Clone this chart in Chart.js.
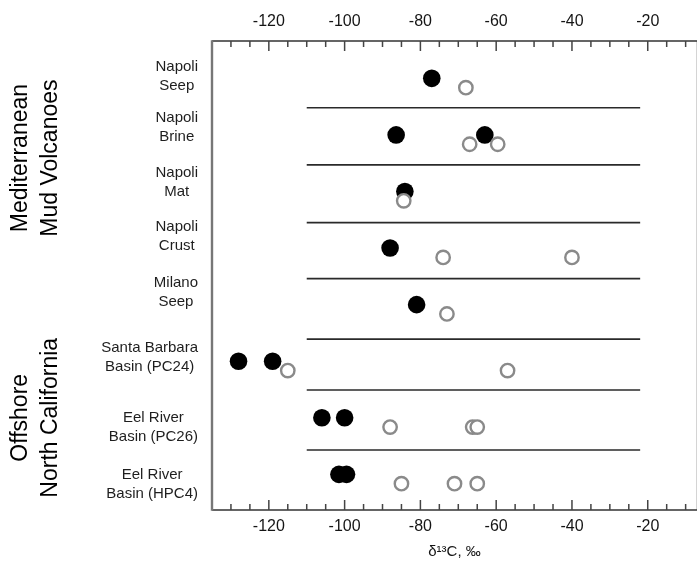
<!DOCTYPE html>
<html>
<head>
<meta charset="utf-8">
<script src="https://cdn.jsdelivr.net/npm/chart.js@4.4.1/dist/chart.umd.min.js"></script>
<style>
  html, body { margin: 0; padding: 0; background: #fff; }
  canvas { display: block; }
</style>
</head>
<body>
<canvas id="isoChart" width="700" height="564"></canvas>
<script>
// sample sites, top to bottom
const sites = [
  ['Napoli', 'Seep'],
  ['Napoli', 'Brine'],
  ['Napoli', 'Mat'],
  ['Napoli', 'Crust'],
  ['Milano', 'Seep'],
  ['Santa Barbara', 'Basin (PC24)'],
  ['Eel River', 'Basin (PC26)'],
  ['Eel River', 'Basin (HPC4)']
];
const regions = [
  ['Mediterranean', 'Mud Volcanoes'],
  ['Offshore', 'North California']
];

// δ13C values (‰) per site: filled = black dots, open = grey rings
const filledValues = [
  [-77],
  [-86.4, -63],
  [-84.1],
  [-88],
  [-81],
  [-128, -119],
  [-106, -100],
  [-101.5, -99.5]
];
const openValues = [
  [-68],
  [-67, -59.6],
  [-84.4],
  [-74, -40],
  [-73],
  [-115, -57],
  [-88, -66.2, -65],
  [-85, -71, -65]
];

const xTicks = [-120, -100, -80, -60, -40, -20];
const xMin = -135, xMax = -7;

// layout in row units (row i sits at y = i)
const openShift = 0.165;
const separatorRows = [0.52, 1.53, 2.55, 3.54, 4.61, 5.51, 6.57];
const separatorSpan = [-110, -22];
const siteLabelRows = [-0.035, 0.875, 1.83, 2.8, 3.79, 4.93, 6.17, 7.18];
const regionLabelRows = [1.41, 6.0];

const FONT = '"Liberation Sans", Arial, sans-serif';

const filledData = [];
filledValues.forEach((vals, i) => vals.forEach(v => filledData.push({ x: v, y: i })));
const openData = [];
openValues.forEach((vals, i) => vals.forEach(v => openData.push({ x: v, y: i + openShift })));

const datasets = [
  {
    label: 'open',
    data: openData,
    pointRadius: 6.7,
    pointBorderWidth: 2.4,
    pointBorderColor: '#8a8a8a',
    pointBackgroundColor: '#fff',
    showLine: false,
    order: 0
  },
  {
    label: 'filled',
    data: filledData,
    pointRadius: 8.8,
    pointBorderWidth: 0,
    pointBackgroundColor: '#000',
    showLine: false,
    order: 1
  }
];
separatorRows.forEach(r => {
  datasets.push({
    type: 'line',
    data: [{ x: separatorSpan[0], y: r }, { x: separatorSpan[1], y: r }],
    borderColor: '#2a2a2a',
    borderWidth: 1.6,
    pointRadius: 0,
    order: 2
  });
});

// labels are pushed off the axis with a tall line height
const axisCommon = {
  type: 'linear',
  min: xMin,
  max: xMax,
  afterBuildTicks: s => { s.ticks = xTicks.map(v => ({ value: v })); },
  grid: { display: false, drawTicks: false },
  border: { display: false },
  ticks: { padding: 0, color: '#151515' }
};

// inward ticks, frame and text labels
const decorations = {
  id: 'decorations',
  afterDraw(chart) {
    const { ctx, chartArea: a, scales } = chart;
    const x = scales.x, y = scales.y;
    ctx.save();

    // frame
    ctx.lineCap = 'butt';
    ctx.strokeStyle = '#d4d4d4';
    ctx.lineWidth = 1;
    ctx.beginPath();
    ctx.moveTo(a.right - 0.5, a.top);
    ctx.lineTo(a.right - 0.5, a.bottom);
    ctx.stroke();
    ctx.strokeStyle = '#333';
    ctx.lineWidth = 1.6;
    ctx.beginPath();
    ctx.moveTo(a.left, a.top);
    ctx.lineTo(a.right, a.top);
    ctx.moveTo(a.left, a.bottom);
    ctx.lineTo(a.right, a.bottom);
    ctx.stroke();
    ctx.strokeStyle = '#777';
    ctx.lineWidth = 2.4;
    ctx.beginPath();
    ctx.moveTo(a.left, a.top - 0.8);
    ctx.lineTo(a.left, a.bottom + 0.8);
    ctx.stroke();

    // tick marks every 5, longer at labelled values
    ctx.strokeStyle = '#444';
    ctx.lineWidth = 1.5;
    ctx.beginPath();
    for (let v = Math.ceil(xMin / 5) * 5 + 5; v < xMax; v += 5) {
      const px = x.getPixelForValue(v);
      const len = xTicks.includes(v) ? 10 : 6;
      ctx.moveTo(px, a.top);
      ctx.lineTo(px, a.top + len);
      ctx.moveTo(px, a.bottom);
      ctx.lineTo(px, a.bottom - len);
    }
    ctx.stroke();

    // site labels: each block right-aligned, lines centred within it
    ctx.fillStyle = '#1e1e1e';
    ctx.font = '15px ' + FONT;
    ctx.textAlign = 'center';
    ctx.textBaseline = 'middle';
    const blockRight = a.left - 14;
    const lineGap = 19;
    sites.forEach((lines, i) => {
      const w = Math.max(...lines.map(t => ctx.measureText(t).width));
      const cx = blockRight - w / 2;
      const cy = y.getPixelForValue(siteLabelRows[i]);
      lines.forEach((t, k) => {
        ctx.fillText(t, cx, cy + (k - (lines.length - 1) / 2) * lineGap);
      });
    });

    // region labels, rotated
    ctx.fillStyle = '#000';
    ctx.font = '23px ' + FONT;
    regions.forEach((lines, i) => {
      const cy = y.getPixelForValue(regionLabelRows[i]);
      ctx.save();
      ctx.translate(36, cy);
      ctx.rotate(-Math.PI / 2);
      lines.forEach((t, k) => {
        ctx.fillText(t, 0, (k - (lines.length - 1) / 2) * 30);
      });
      ctx.restore();
    });

    ctx.restore();
  }
};

const noSidePadding = s => { s.paddingLeft = 0; s.paddingRight = 0; };

new Chart(document.getElementById('isoChart'), {
  type: 'scatter',
  data: { datasets },
  options: {
    responsive: false,
    animation: false,
    // big dots would otherwise reserve extra room on the right
    layout: { autoPadding: false, padding: { left: 0, right: 3, top: 0, bottom: 0 } },
    plugins: { legend: { display: false }, tooltip: { enabled: false } },
    scales: {
      x: {
        ...axisCommon,
        position: 'bottom',
        ticks: { ...axisCommon.ticks, font: { family: FONT, size: 16, lineHeight: 2.1 } },
        title: {
          display: true,
          text: 'δ¹³C, ‰',
          font: { family: FONT, size: 15 },
          color: '#151515',
          padding: { top: 0, bottom: 3 }
        },
        afterFit: s => { s.height = 54; noSidePadding(s); }
      },
      x2: {
        ...axisCommon,
        position: 'top',
        ticks: { ...axisCommon.ticks, font: { family: FONT, size: 16, lineHeight: 2.4 } },
        afterFit: s => { s.height = 41; noSidePadding(s); }
      },
      y: {
        type: 'linear',
        reverse: true,
        min: -0.66,
        max: 7.63,
        ticks: { display: false },
        grid: { display: false },
        border: { display: false },
        afterFit: s => { s.width = 212; }
      }
    }
  },
  plugins: [decorations]
});
</script>
</body>
</html>
